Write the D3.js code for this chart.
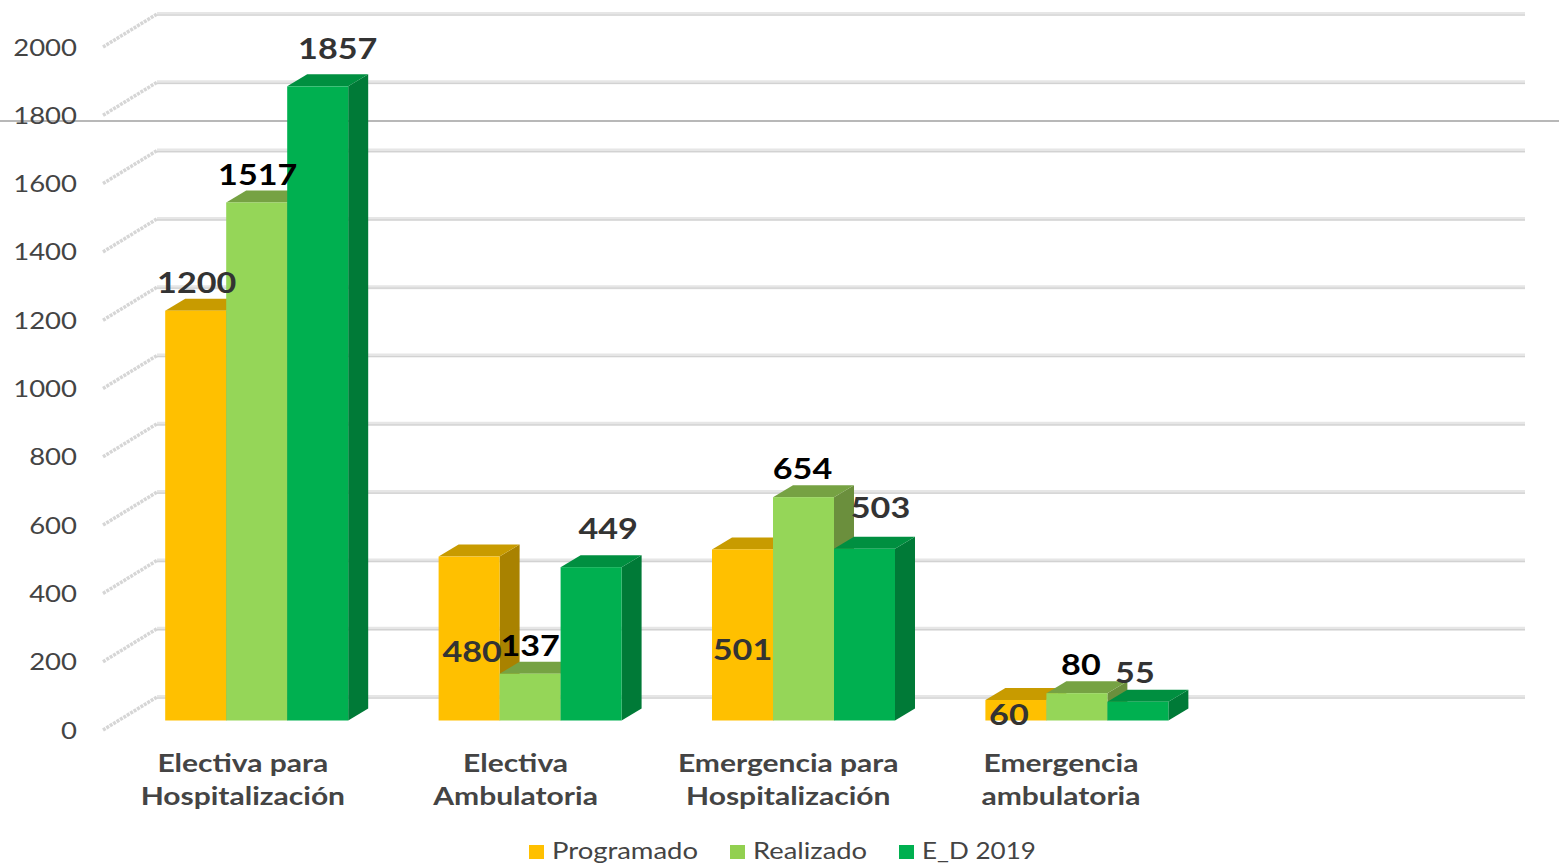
<!DOCTYPE html>
<html><head><meta charset="utf-8">
<script src="https://cdnjs.cloudflare.com/ajax/libs/d3/7.8.5/d3.min.js"></script>
<style>html,body{margin:0;padding:0;background:#fff;overflow:hidden}svg{display:block;font-family:Lato,sans-serif}</style>
</head><body><svg id="c" width="1559" height="864"></svg>
<script>
const categories=[["Electiva para","Hospitalización"],["Electiva","Ambulatoria"],["Emergencia para","Hospitalización"],["Emergencia","ambulatoria"]];
const seriesNames=["Programado","Realizado","E_D 2019"];
const programado=[1200,480,501,60];
const realizado=[1517,137,654,80];
const ed2019=[1857,449,503,55];
const tickValues=[0,200,400,600,800,1000,1200,1400,1600,1800,2000];
const colors=["#FFC000","#95D658","#00B050"];
const topColors=["#C89B00","#76A243","#008F40"];
const sideColors=["#A98200","#6B8F3D","#007A37"];
const labelColors=["#333","#000","#333"];
// label offsets relative to the bar's front top centre: [dx, baseline dy] per series per category
const labelOffsets=[
 [[1,-18],[1,-17],[20,-27]],
 [[3,105],[0,-18],[17,-28]],
 [[0,111],[-1,-18],[16,-31]],
 [[-7,25],[4,-18],[-3,-19]]
];
const series=[programado,realizado,ed2019];
const W=1559,H=864,depthX=20,depthY=12,wallX=54,wallY=33;
const svg=d3.select("#c");
const y=d3.scaleLinear().domain([0,2000]).range([720.5,37.5]);
const yTick=d3.scaleLinear().domain([0,2000]).range([730,47]);
const yWall=v=>yTick(v)-wallY;
const xBand=d3.scaleBand().domain(d3.range(5)).range([120,1487]);
const xCat=d3.scaleBand().domain(d3.range(5)).range([106.5,1470]);
const xBar=d3.scaleBand().domain(d3.range(3)).range([0,183]);
const barLeft=(c)=>xBand(c)+(xBand.bandwidth()-183)/2;
const sx=1.17;

// walls
const grid=svg.append("g");
tickValues.forEach(v=>{
  const yy=yWall(v);
  grid.append("line").attr("x1",157).attr("x2",1525).attr("y1",yy).attr("y2",yy).attr("stroke","#e6e6e6").attr("stroke-width",4);
  grid.append("line").attr("x1",157).attr("x2",1525).attr("y1",yy+1).attr("y2",yy+1).attr("stroke","#d2d2d2").attr("stroke-width",1.2);
  grid.append("line").attr("x1",103).attr("x2",103+wallX).attr("y1",yTick(v)).attr("y2",yWall(v)).attr("stroke","#d6d6d6").attr("stroke-width",3.5).attr("stroke-dasharray","3 1");
});
// stray horizontal rule
svg.append("line").attr("x1",0).attr("x2",W).attr("y1",121).attr("y2",121).attr("stroke","#a0a0a0").attr("stroke-width",1.3);

// axis labels
const ax=svg.append("g").attr("transform","translate(77,0.5)").call(d3.axisLeft(yTick).tickValues(tickValues).tickFormat(d3.format("d")).tickSize(0).tickPadding(0));
ax.select(".domain").remove();
ax.selectAll("text").attr("x",0).attr("font-family","Lato,sans-serif").attr("font-size",23.5).attr("fill","#444").attr("transform",`scale(${sx},1)`);

// bars
const bars=svg.append("g");
categories.forEach((cat,c)=>{
  series.forEach((vals,s)=>{
    const v=vals[c],x0=barLeft(c)+xBar(s),x1=x0+xBar.bandwidth(),t=y(v),b=y(0);
    const g=bars.append("g");
    g.append("path").attr("fill",sideColors[s]).attr("d",`M${x1},${t}L${x1+depthX},${t-depthY}L${x1+depthX},${b-depthY}L${x1},${b}Z`);
    g.append("path").attr("fill",topColors[s]).attr("d",`M${x0},${t}L${x0+depthX},${t-depthY}L${x1+depthX},${t-depthY}L${x1},${t}Z`);
    g.append("rect").attr("x",x0).attr("y",t).attr("width",xBar.bandwidth()).attr("height",b-t).attr("fill",colors[s]);
  });
});

// helper for horizontally stretched text
function stretched(sel,x,yy,txt,size,weight,fill,k){
  return sel.append("text").attr("transform",`translate(${x},${yy}) scale(${k},1)`).attr("text-anchor","middle")
    .attr("font-size",size).attr("font-weight",weight).attr("fill",fill).text(txt);
}
// value labels
const labels=svg.append("g");
categories.forEach((cat,c)=>{
  series.forEach((vals,s)=>{
    const cx=barLeft(c)+xBar(s)+xBar.bandwidth()/2,[dx,dy]=labelOffsets[c][s];
    stretched(labels,cx+dx,y(vals[c])+dy,vals[c],28,700,labelColors[s],1.22);
  });
});
// category labels
const catG=svg.append("g");
categories.forEach((cat,c)=>{
  const cx=xCat(c)+xCat.bandwidth()/2;
  cat.forEach((line,i)=>stretched(catG,cx,772+i*33,line,24.5,700,"#444",1.225));
});
// legend
const legX=[529,730,899],legTX=[552,753,922],legK=[1.145,1.14,1.085];
const leg=svg.append("g");
seriesNames.forEach((n,i)=>{
  leg.append("rect").attr("x",legX[i]).attr("y",845).attr("width",15).attr("height",14).attr("fill",["#FFC000","#92D050","#00B050"][i]);
  leg.append("text").attr("transform",`translate(${legTX[i]},859) scale(${legK[i]},1)`).attr("font-size",24).attr("fill","#444").text(n);
});
</script></body></html>
